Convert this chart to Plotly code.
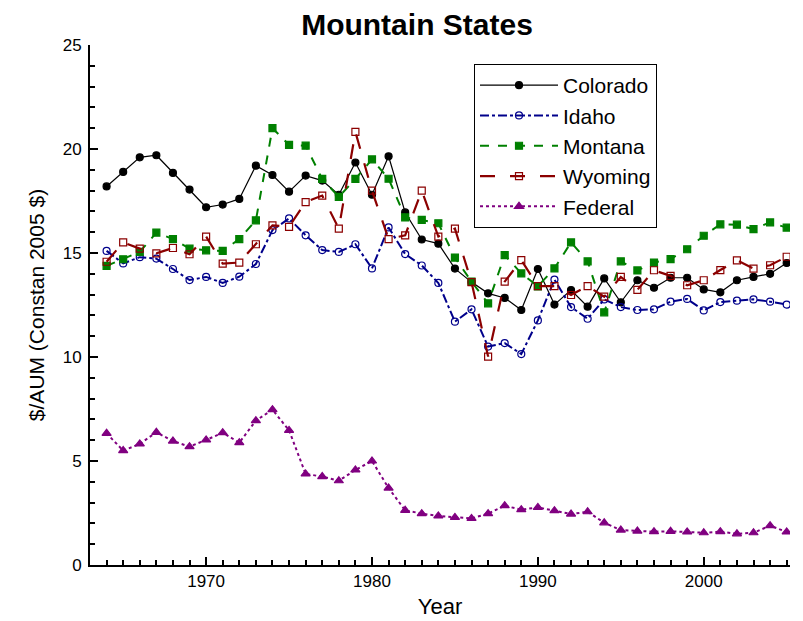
import plotly.graph_objects as go

years = list(range(1964, 2006))

colorado = [18.2, 18.9, 19.6, 19.7, 18.85, 18.05, 17.2, 17.33, 17.6, 19.2, 18.75, 17.95,
            18.72, 18.48, 17.8, 19.35, 17.8, 19.65, 16.95, 15.65, 15.45, 14.25, 13.6, 13.06,
            12.84, 12.26, 14.23, 12.52, 13.22, 12.42, 13.78, 12.63, 13.69, 13.33, 13.81, 13.81,
            13.25, 13.11, 13.69, 13.85, 14.0, 14.52]
idaho = [15.1, 14.5, 14.8, 14.73, 14.23, 13.7, 13.85, 13.56, 13.86, 14.47, 16.1, 16.66,
         15.85, 15.14, 15.05, 15.42, 14.26, 16.23, 14.95, 14.4, 13.56, 11.7, 12.29, 10.5,
         10.67, 10.14, 11.76, 13.72, 12.4, 11.84, 12.77, 12.4, 12.26, 12.29, 12.66, 12.79,
         12.24, 12.64, 12.71, 12.77, 12.66, 12.52]
montana = [14.38, 14.7, 15.05, 15.98, 15.67, 15.21, 15.13, 15.1, 15.67, 16.57, 21.0, 20.2,
           20.16, 18.56, 17.7, 18.56, 19.5, 18.57, 16.71, 16.59, 16.43, 14.78, 13.62, 12.58,
           14.9, 14.02, 13.4, 14.26, 15.51, 14.6, 12.15, 14.6, 14.16, 14.54, 14.71, 15.18,
           15.83, 16.38, 16.36, 16.15, 16.47, 16.22]
wyoming = [14.58, 15.51, 15.21, 14.98, 15.24, 14.94, 15.79, 14.49, 14.54, 15.42, 16.33, 16.26,
           17.45, 17.76, 16.17, 20.82, 18.0, 15.67, 15.85, 18.0, 15.79, 16.17, 13.6, 10.02,
           13.62, 14.66, 13.41, 13.41, 12.98, 13.41, 12.9, 13.85, 13.23, 14.17, 13.9, 13.45,
           13.69, 14.18, 14.65, 14.25, 14.41, 14.82]
federal = [6.33, 5.5, 5.82, 6.38, 5.96, 5.69, 6.01, 6.36, 5.88, 6.94, 7.47, 6.47,
           4.38, 4.25, 4.05, 4.57, 5.0, 3.7, 2.63, 2.47, 2.36, 2.29, 2.24, 2.47,
           2.85, 2.66, 2.77, 2.61, 2.45, 2.56, 2.03, 1.68, 1.63, 1.6, 1.62, 1.59,
           1.55, 1.6, 1.5, 1.55, 1.89, 1.59]

x_ticks = [1970, 1980, 1990, 2000]
y_ticks = [0, 5, 10, 15, 20, 25]

series = [
    ("Colorado", colorado, "#000000", "solid", "circle", 1.2, 7),
    ("Idaho", idaho, "#00008B", "dashdot", "circle-open", 2.0, 7),
    ("Montana", montana, "#008000", "dash", "square", 2.0, 7),
    ("Wyoming", wyoming, "#8B0000", "longdash", "square-open", 2.2, 7),
    ("Federal", federal, "#800080", "dot", "triangle-up", 2.0, 8),
]

FONT = "Liberation Sans, Arial, sans-serif"

fig = go.Figure()
for name, vals, color, dash, sym, lw, ms in series:
    fig.add_trace(go.Scatter(
        x=years, y=vals, name=name, mode="lines+markers",
        line=dict(color=color, dash=dash, width=lw),
        marker=dict(symbol=sym, size=ms, color=color,
                    line=dict(color=color, width=1.2)),
    ))

axis_font = dict(family=FONT, size=17, color="black")

# page body has an 8px default margin; figure sized to fit the window
W, H = 795, 613
fig.update_layout(
    width=W, height=H,
    margin=dict(l=82, r=13, t=37, b=56, autoexpand=False),
    paper_bgcolor="white", plot_bgcolor="white",
    title=dict(text="<b>Mountain States</b>", x=(417 - 8) / W, xanchor="center",
               y=1 - 16 / H, yanchor="middle",
               font=dict(family=FONT, size=30, color="black")),
    font=axis_font,
    legend=dict(x=(474 - 90) / 700, y=(565 - 64) / 520, xanchor="left", yanchor="top",
                bordercolor="black", borderwidth=1, bgcolor="white",
                font=dict(family=FONT, size=21, color="black"),
                itemwidth=78, tracegroupgap=0),
    showlegend=True,
)
fig.update_xaxes(
    range=[1963, 2005.2], tickvals=x_ticks, ticks="inside", ticklen=8, tickwidth=1.5,
    tickcolor="black", showline=True, linecolor="black", linewidth=2, showgrid=False,
    zeroline=False, automargin=False,
    minor=dict(dtick=1, tick0=1960, ticks="inside", ticklen=5, tickcolor="black", showgrid=False),
    title=dict(text="Year", font=dict(family=FONT, size=22), standoff=8), tickfont=axis_font,
)
fig.update_yaxes(
    range=[0, 25], tickvals=y_ticks, ticks="inside", ticklen=8, tickwidth=1.5,
    tickcolor="black", showline=True, linecolor="black", linewidth=2, showgrid=False,
    zeroline=False, automargin=False, ticklabelstandoff=3,
    minor=dict(dtick=1, ticks="inside", ticklen=5, tickcolor="black", showgrid=False),
    title=dict(text="$/AUM (Constan 2005 $)", font=dict(family=FONT, size=21), standoff=12),
    tickfont=axis_font,
)

fig.write_html("out.html")
